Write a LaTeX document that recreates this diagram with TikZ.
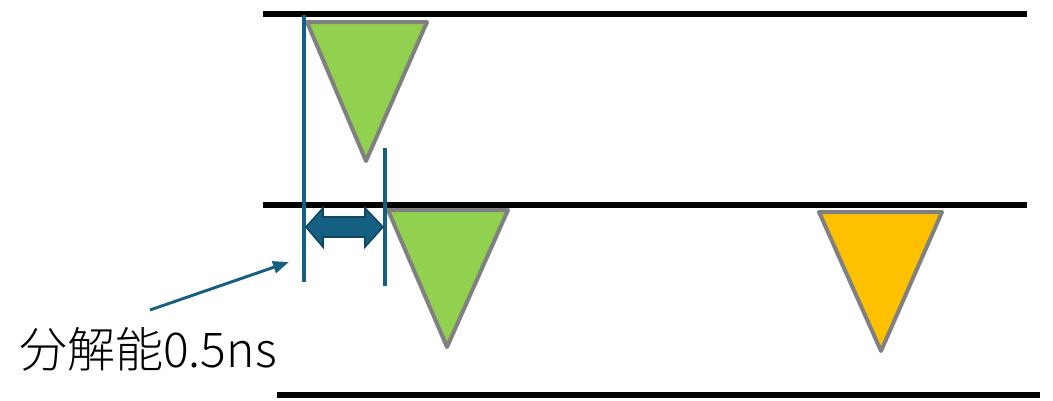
\documentclass[tikz,border=0pt]{standalone}
\usepackage{fontspec}
\usetikzlibrary{arrows.meta}
\newfontfamily\cjkfont{Noto Sans CJK JP Light}
\definecolor{tgreen}{HTML}{92D050}
\definecolor{torange}{HTML}{FFC000}
\definecolor{tgrey}{HTML}{808080}
\definecolor{tblue}{HTML}{156082}
\definecolor{tdblue}{HTML}{0F4761}
\tikzset{
  baseline line/.style={line width=5.2pt, black},
  pulse/.style={draw=tgrey, line width=3pt, line join=round},
  marker/.style={draw=tblue, line width=2.4pt},
  blockarrow/.style={fill=tblue, draw=tdblue, line width=1.2pt, line join=miter},
}
\begin{document}
\begin{tikzpicture}[x=0.75pt,y=-0.75pt]
\useasboundingbox (0,0) rectangle (1053,400);
% baselines
\draw[baseline line] (263,14) -- (1027,14);
\draw[baseline line] (263,205) -- (1027,205);
\draw[baseline line] (277,395) -- (1040,395);
% pulses
\draw[pulse, fill=tgreen] (307,22) -- (427,22) -- (366,161) -- cycle;
\draw[pulse, fill=tgreen] (388,210) -- (508,210) -- (447,347) -- cycle;
\draw[pulse, fill=torange] (819,212) -- (942,212) -- (881,351) -- cycle;
% markers
\coordinate (m1t) at (304,15);
\coordinate (m1b) at (304,282);
\coordinate (m2t) at (385,148);
\coordinate (m2b) at (385,286);
\draw[marker] (m1t) -- (m1b);
\draw[marker] (m2t) -- (m2b);
% double block arrow
\draw[blockarrow] (306,227) -- (323,208) -- (323,217) -- (365,217) -- (365,208)
  -- (383,227) -- (365,247) -- (365,237) -- (323,237) -- (323,247) -- cycle;
% label and pointer
\node[anchor=west, inner sep=0pt] (lbl) at (19,349) {\cjkfont\fontsize{36}{40}\selectfont 分解能0.5ns};
\coordinate (ps) at (150,310);
\coordinate (pe) at (289,262);
\draw[tblue, line width=2.2pt, -{Triangle[length=12pt,width=9pt]}] (ps) -- (pe);
\end{tikzpicture}
\end{document}
